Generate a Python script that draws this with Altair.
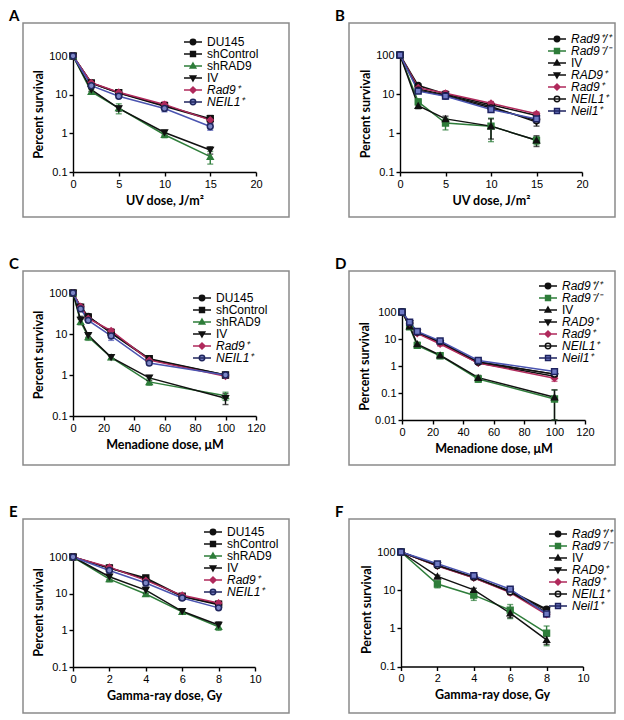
import altair as alt
import pandas as pd

# ---------------- data ----------------
HUMAN = ["DU145", "shControl", "shRAD9", "IV", "Rad9⁺", "NEIL1⁺"]
MOUSE = ["Rad9⁺/⁺", "Rad9⁻/⁻", "IV", "RAD9⁺", "Rad9⁺", "NEIL1⁺", "Neil1⁺"]

A_x = [0, 2, 5, 10, 15]
A_y = {
    "DU145":     [100, 20, 11, 5.0, 2.3],
    "shControl": [100, 20, 11.2, 5.2, 2.4],
    "shRAD9":    [100, 12, 4.5, 0.92, 0.25],
    "IV":        [100, 13.5, 4.4, 1.05, 0.37],
    "Rad9⁺":     [100, 20.5, 11.6, 5.6, 2.2],
    "NEIL1⁺":    [100, 17, 9.1, 4.4, 1.5],
}
A_err = {
    "DU145":     [0, 2, 1, 0.6, 0.3],
    "shControl": [0, 2.5, 1, 0.8, 0.5],
    "shRAD9":    [0, 1.5, 1.3, 0.15, 0.09],
    "IV":        [0, 1.5, 0.7, 0.15, 0.08],
    "Rad9⁺":     [0, 2, 1, 1, 0.4],
    "NEIL1⁺":    [0, 2, 1, 0.8, 0.3],
}

B_x = [0, 2, 5, 10, 15]
B_y = {
    "Rad9⁺/⁺": [100, 16.5, 10, 5.3, 2.8],
    "Rad9⁻/⁻": [100, 6.3, 1.8, 1.5, 0.65],
    "IV":      [100, 5.0, 2.3, 1.5, 0.65],
    "RAD9⁺":   [100, 13.5, 9.5, 4.8, 1.9],
    "Rad9⁺":   [100, 14.5, 10.5, 5.8, 3.1],
    "NEIL1⁺":  [100, 12.5, 9.0, 4.4, 2.1],
    "Neil1⁺":  [100, 11.8, 8.8, 4.0, 2.3],
}
B_err = {
    "Rad9⁺/⁺": [0, 1.5, 1.5, 0.6, 0.5],
    "Rad9⁻/⁻": [0, 1.2, 0.6, 0.9, 0.15],
    "IV":      [0, 0.8, 0.4, 0.8, 0.2],
    "RAD9⁺":   [0, 1.5, 1.5, 0.5, 0.4],
    "Rad9⁺":   [0, 1.5, 1.5, 0.6, 0.4],
    "NEIL1⁺":  [0, 1, 1, 0.5, 0.3],
    "Neil1⁺":  [0, 1, 1.5, 0.5, 0.3],
}

C_x = [0, 5, 10, 25, 50, 100]
C_y = {
    "DU145":     [100, 46, 27, 10.5, 2.4, 1.0],
    "shControl": [100, 45, 26, 11, 2.5, 1.0],
    "shRAD9":    [100, 20, 8.5, 2.7, 0.68, 0.31],
    "IV":        [100, 22, 9.3, 2.7, 0.85, 0.27],
    "Rad9⁺":     [100, 47, 24, 12, 2.3, 0.93],
    "NEIL1⁺":    [100, 41, 21.5, 9.0, 1.95, 1.0],
}
C_err = {
    "DU145":     [0, 4, 3, 1, 0.3, 0.1],
    "shControl": [0, 5, 3, 1.5, 0.3, 0.1],
    "shRAD9":    [0, 3, 1.5, 0.3, 0.12, 0.07],
    "IV":        [0, 5, 1, 0.3, 0.12, 0.08],
    "Rad9⁺":     [0, 5, 3, 1.5, 0.3, 0.1],
    "NEIL1⁺":    [0, 4, 2, 2, 0.2, 0.15],
}

D_x = [0, 5, 10, 25, 50, 100]
D_y = {
    "Rad9⁺/⁺": [100, 40, 18, 7.5, 1.4, 0.5],
    "Rad9⁻/⁻": [100, 28, 5.8, 2.4, 0.33, 0.06],
    "IV":      [100, 30, 6.5, 2.5, 0.37, 0.07],
    "RAD9⁺":   [100, 38, 17, 7.0, 1.3, 0.42],
    "Rad9⁺":   [100, 38, 16, 6.5, 1.3, 0.35],
    "NEIL1⁺":  [100, 40, 18, 8.0, 1.4, 0.5],
    "Neil1⁺":  [100, 42, 19, 8.5, 1.6, 0.62],
}
D_err = {
    "Rad9⁺/⁺": [0, 4, 2, 1, 0.15, 0.08],
    "Rad9⁻/⁻": [0, 3, 1, 0.5, 0.08, 0.07],
    "IV":      [0, 3, 1, 0.5, 0.08, 0.06],
    "RAD9⁺":   [0, 3, 2, 1, 0.15, 0.08],
    "Rad9⁺":   [0, 3, 2, 1, 0.15, 0.08],
    "NEIL1⁺":  [0, 3, 2, 1, 0.15, 0.08],
    "Neil1⁺":  [0, 3, 2, 1, 0.15, 0.08],
}

E_x = [0, 2, 4, 6, 8]
E_y = {
    "DU145":     [100, 50, 25, 8.3, 5.0],
    "shControl": [100, 50, 27, 8.5, 5.2],
    "shRAD9":    [100, 25, 9.8, 3.2, 1.25],
    "IV":        [100, 29, 12.5, 3.3, 1.4],
    "Rad9⁺":     [100, 53, 23, 9.0, 5.6],
    "NEIL1⁺":    [100, 43, 19.5, 7.6, 4.1],
}
E_err = {
    "DU145":     [0, 5, 3, 0.8, 0.5],
    "shControl": [0, 6, 4, 1, 0.6],
    "shRAD9":    [0, 4, 1, 0.3, 0.25],
    "IV":        [0, 5, 2.5, 0.4, 0.3],
    "Rad9⁺":     [0, 6, 3, 1, 0.7],
    "NEIL1⁺":    [0, 5, 3, 1, 0.4],
}

F_x = [0, 2, 4, 6, 8]
F_y = {
    "Rad9⁺/⁺": [100, 45, 22, 9.5, 3.2],
    "Rad9⁻/⁻": [100, 14.5, 7.4, 3.0, 0.75],
    "IV":      [100, 23, 10.2, 2.5, 0.5],
    "RAD9⁺":   [100, 44, 21, 9.0, 3.0],
    "Rad9⁺":   [100, 43, 21, 8.6, 2.3],
    "NEIL1⁺":  [100, 44, 22, 9.0, 2.6],
    "Neil1⁺":  [100, 49, 24, 10.6, 2.4],
}
F_err = {
    "Rad9⁺/⁺": [0, 3, 2, 1, 0.3],
    "Rad9⁻/⁻": [0, 3, 2, 1.2, 0.4],
    "IV":      [0, 1.5, 1, 0.6, 0.12],
    "RAD9⁺":   [0, 3, 2, 1, 0.3],
    "Rad9⁺":   [0, 3, 2, 1, 0.3],
    "NEIL1⁺":  [0, 3, 2, 1, 0.3],
    "Neil1⁺":  [0, 3, 2, 1, 0.4],
}

UV_TICKS = [0, 5, 10, 15, 20]
MEN_TICKS = [0, 20, 40, 60, 80, 100, 120]
GAM_TICKS = [0, 2, 4, 6, 8, 10]
LOG3 = [0.1, 1, 10, 100]
LOG4 = [0.01, 0.1, 1, 10, 100]

# ---------------- styles ----------------
K = "#111111"
G = "#2e7d3a"
R = "#b02a5c"
BL = "#4a54b0"
HUMAN_LINE = [K, K, G, K, R, BL]
HUMAN_FILL = [K, K, G, K, R, "#7c86c6"]
HUMAN_STROKE = [K, K, G, K, R, "#20265e"]
HUMAN_SHAPE = ["circle", "square", "triangle-up", "triangle-down", "diamond", "circle"]
MOUSE_LINE = [K, G, K, K, R, K, BL]
MOUSE_FILL = [K, G, K, K, R, "#ffffff", "#6f7ac4"]
MOUSE_STROKE = [K, G, K, K, R, K, "#1e2360"]
MOUSE_SHAPE = ["circle", "square", "triangle-up", "triangle-down", "diamond", "circle", "square"]

SEG = "M-1.8,0H1.8"
PATHS = {
    "circle": SEG + "M0.55,0A0.55,0.55,0,1,1,-0.55,0A0.55,0.55,0,1,1,0.55,0Z",
    "square": SEG + "M-0.5,-0.5H0.5V0.5H-0.5Z",
    "triangle-up": SEG + "M0,-0.6L0.58,0.42H-0.58Z",
    "triangle-down": SEG + "M0,0.6L0.58,-0.42H-0.58Z",
    "diamond": SEG + "M0,-0.62L0.62,0L0,0.62L-0.62,0Z",
}

W, H = 266, 194
ITALIC_EXPR = "indexof(['DU145','shControl','IV','shRAD9'], datum.value) >= 0 ? 'normal' : 'italic'"


def panel(letter, xs, ys, errs, names, line_c, fill_c, stroke_c, shapes,
          xdom, xticks, xrng, ydom, yticks, yrng, xtitle, lx, ly):
    rows = []
    for i, n in enumerate(names):
        for x, y, e in zip(xs, ys[n], errs[n]):
            rows.append(dict(series=n, k=i, x=x, y=y, e=e,
                             lo=max(y - e, ydom[0]), hi=y + e))
    df = pd.DataFrame(rows)
    X = alt.X("x:Q", scale=alt.Scale(domain=xdom, range=xrng, nice=False, zero=False),
              axis=alt.Axis(values=xticks, title=xtitle, offset=-(H - yrng[0]),
                            labelFlush=False, titlePadding=5))
    Y = alt.Y("y:Q", scale=alt.Scale(type="log", domain=ydom, range=yrng, nice=False),
              axis=alt.Axis(values=yticks, format="~g", title="Percent survival",
                            offset=-xrng[0], titlePadding=3))
    col = alt.Color("series:N", scale=alt.Scale(domain=names, range=line_c), legend=None)
    base = alt.Chart(df)
    lines = base.mark_line(strokeWidth=1.5).encode(x=X, y=Y, color=col, order="x:Q")
    eb = base.transform_filter("datum.e > 0")
    rule = eb.mark_rule(strokeWidth=1.4).encode(x=X, y=alt.Y("lo:Q"), y2="hi:Q", color=col)
    cap1 = eb.mark_tick(orient="horizontal", size=6, thickness=1.4).encode(x=X, y=alt.Y("lo:Q"), color=col)
    cap2 = eb.mark_tick(orient="horizontal", size=6, thickness=1.4).encode(x=X, y=alt.Y("hi:Q"), color=col)
    pts = base.mark_point(filled=True, size=34, strokeWidth=1.5, opacity=1).encode(
        x=X, y=Y,
        fill=alt.Fill("series:N", scale=alt.Scale(domain=names, range=fill_c), legend=None),
        stroke=alt.Stroke("series:N", scale=alt.Scale(domain=names, range=stroke_c), legend=None),
        shape=alt.Shape("series:N", scale=alt.Scale(domain=names, range=shapes), legend=None),
        order=alt.Order("k:Q"),
    )
    leg = alt.Legend(title=None, orient="none", legendX=lx - 5, legendY=ly - 6,
                     symbolSize=100, symbolStrokeWidth=1.4, labelFont="Liberation Sans",
                     labelFontSize=12, labelColor="black", labelOffset=8, rowPadding=-1.6,
                     labelFontStyle=alt.ExprRef(ITALIC_EXPR), padding=0, labelLimit=300)
    legend_layer = base.transform_filter("false").mark_point(
        filled=True, opacity=1, strokeWidth=1.4).encode(
        fill=alt.Fill("series:N", scale=alt.Scale(domain=names, range=fill_c), legend=leg),
        stroke=alt.Stroke("series:N", scale=alt.Scale(domain=names, range=stroke_c), legend=leg),
        shape=alt.Shape("series:N", scale=alt.Scale(domain=names, range=[PATHS[s] for s in shapes]),
                        legend=leg),
    )
    return alt.layer(lines, rule, cap1, cap2, pts, legend_layer).resolve_scale(
        fill="independent", stroke="independent", shape="independent"
    ).properties(
        width=W, height=H,
        title=alt.TitleParams(letter, anchor="start", dx=-14, offset=-13, fontSize=15,
                              font="Lato", fontWeight="bold", baseline="alphabetic",
                              color="black"),
    )


hum = (HUMAN, HUMAN_LINE, HUMAN_FILL, HUMAN_STROKE, HUMAN_SHAPE)
mou = (MOUSE, MOUSE_LINE, MOUSE_FILL, MOUSE_STROKE, MOUSE_SHAPE)

pA = panel("A", A_x, A_y, A_err, *hum, [0, 20], UV_TICKS, [50, 233], [0.1, 100], LOG3, [149, 33],
           "UV dose, J/m²", 169, 19)
pB = panel("B", B_x, B_y, B_err, *mou, [0, 20], UV_TICKS, [51, 233], [0.1, 100], LOG3, [149, 32],
           "UV dose, J/m²", 207, 16)
pC = panel("C", C_x, C_y, C_err, *hum, [0, 120], MEN_TICKS, [50, 233], [0.1, 100], LOG3, [145, 22],
           "Menadione dose, μM", 178, 27)
pD = panel("D", D_x, D_y, D_err, *mou, [0, 120], MEN_TICKS, [53, 236], [0.01, 100], LOG4, [149, 41],
           "Menadione dose, μM", 198, 15)
pE = panel("E", E_x, E_y, E_err, *hum, [0, 10], GAM_TICKS, [50, 232], [0.1, 100], LOG3, [148, 38],
           "Gamma-ray dose, Gy", 189, 13)
pF = panel("F", F_x, F_y, F_err, *mou, [0, 10], GAM_TICKS, [52, 234], [0.1, 100], LOG3, [147.5, 33],
           "Gamma-ray dose, Gy", 208, 15)

IND = dict(color="independent", fill="independent", stroke="independent", shape="independent")

chart = alt.concat(
    pA, pB, pC, pD, pE, pF, columns=2, bounds="flush",
    spacing={"row": 54, "column": 60},
).resolve_scale(**IND).properties(
    padding=0, background="white"
).configure_view(
    stroke="#8a8a8a", strokeWidth=1.5
).configure_axis(
    grid=False, labelFont="Liberation Sans", labelFontSize=11, labelColor="black",
    labelPadding=2, titleFont="Lato", titleFontWeight="bold", titleFontSize=12.5,
    titleColor="black", domainColor="black", domainWidth=1.4, tickColor="black",
    tickWidth=1.4, tickSize=4,
)

chart.save("out.html", embed_options={"renderer": "svg", "actions": False})
